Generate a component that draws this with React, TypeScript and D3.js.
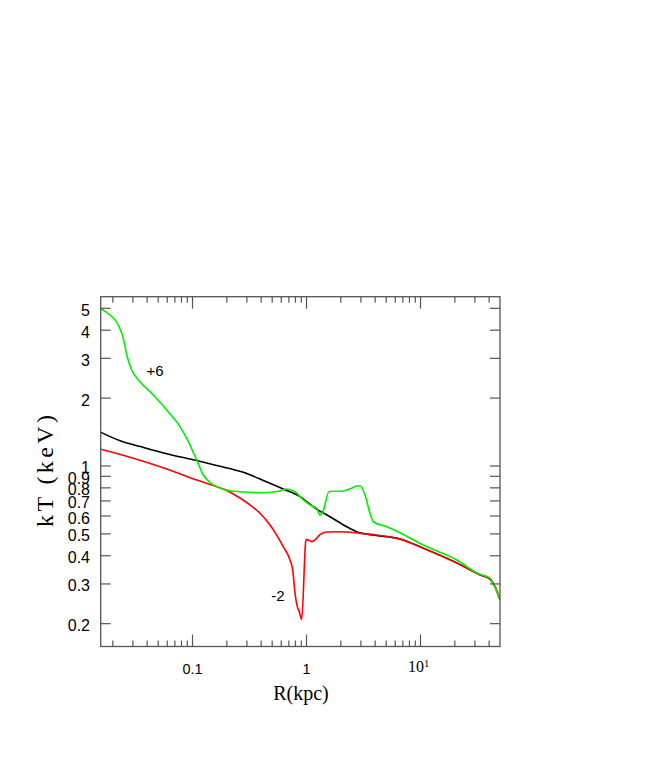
import React from "react";
import * as d3 from "d3";

// Black curve
const blackR = [0.01575, 0.0232, 0.0349, 0.0594, 0.109, 0.163, 0.279, 0.418, 0.6257, 0.877, 1.229, 1.608, 2.25, 2.76, 3.86, 6.61, 10.5, 20.9, 33.3, 40.7, 45.0, 49.8];
const blackT = [1.41, 1.293, 1.219, 1.133, 1.057, 1.005, 0.937, 0.863, 0.791, 0.731, 0.643, 0.596, 0.538, 0.511, 0.494, 0.475, 0.433, 0.372, 0.329, 0.315, 0.292, 0.255];

// Red curve (-2)
const redR = [0.01575, 0.0303, 0.0594, 0.116, 0.1522, 0.1995, 0.2611, 0.3194, 0.3909, 0.4784, 0.5477, 0.6257, 0.7165, 0.7566, 0.7927, 0.8303, 0.8646, 0.9077, 0.984, 1.004, 1.037, 1.111, 1.229, 1.313, 1.503, 1.967, 2.947, 4.128, 6.61, 10.58, 20.8, 33.3, 40.7, 45.0, 49.8];
const redT = [1.186, 1.082, 0.97, 0.858, 0.82, 0.779, 0.721, 0.672, 0.617, 0.548, 0.494, 0.439, 0.383, 0.346, 0.273, 0.238, 0.226, 0.209, 0.462, 0.473, 0.47, 0.462, 0.478, 0.496, 0.51, 0.511, 0.503, 0.494, 0.474, 0.432, 0.371, 0.329, 0.315, 0.292, 0.255];

// Green curve (+6)
const greenR = [0.01575, 0.01889, 0.02234, 0.02472, 0.02648, 0.02929, 0.03463, 0.0453, 0.05938, 0.0777, 0.09187, 0.1088, 0.1244, 0.1522, 0.1995, 0.2611, 0.4179, 0.5855, 0.6705, 0.7927, 0.9374, 1.111, 1.229, 1.313, 1.404, 1.575, 2.103, 2.492, 2.773, 2.947, 3.26, 3.606, 3.855, 5.053, 6.61, 10.58, 20.78, 33.26, 36.8, 40.7, 44.13, 49.32];
const greenT = [4.966, 4.67, 4.217, 3.681, 3.105, 2.665, 2.364, 2.064, 1.771, 1.494, 1.281, 1.063, 0.912, 0.824, 0.783, 0.769, 0.761, 0.775, 0.791, 0.769, 0.707, 0.665, 0.649, 0.606, 0.634, 0.771, 0.775, 0.797, 0.815, 0.815, 0.744, 0.617, 0.566, 0.538, 0.506, 0.446, 0.383, 0.331, 0.326, 0.318, 0.297, 0.259];

const yTickValues = [0.2, 0.3, 0.4, 0.5, 0.6, 0.7, 0.8, 0.9, 1, 2, 3, 4, 5];
const yTickLabels = ["0.2", "0.3", "0.4", "0.5", "0.6", "0.7", "0.8", "0.9", "1", "2", "3", "4", "5"];
const xMajorTicks = [0.1, 1, 10];
const xDecades = [0.01, 0.1, 1, 10];
const xMinorMultipliers = [2, 3, 4, 5, 6, 7, 8, 9];

const xDomain: [number, number] = [0.01565, 49.82];
const yDomain: [number, number] = [0.1584, 5.63];

const curveLabels = [
  { text: "+6", r: 0.0469, t: 2.62 },
  { text: "-2", r: 0.562, t: 0.263 },
];

const L = 100.7, R = 500, T = 296.7, B = 646.5;

export default function App() {
  const x = d3.scaleLog().domain(xDomain).range([L, R]);
  const y = d3.scaleLog().domain(yDomain).range([B, T]);

  const line = d3
    .line<[number, number]>()
    .x((d) => x(d[0]))
    .y((d) => y(d[1]))
    .curve(d3.curveMonotoneX);

  const zip = (a: number[], b: number[]) => a.map((v, i) => [v, b[i]] as [number, number]);

  const minorTicks: number[] = [];
  xDecades.forEach((dec) =>
    xMinorMultipliers.forEach((m) => {
      const v = dec * m;
      if (v > xDomain[0] && v < xDomain[1]) minorTicks.push(v);
    })
  );

  const axisColor = "#555";
  const sans = "'Liberation Sans', Arial, Helvetica, sans-serif";
  const serif = "'Liberation Serif', 'Times New Roman', serif";

  return (
    <svg
      width={654}
      height={763}
      style={{ position: "absolute", left: 0, top: 0, background: "#fff" }}
    >
      <defs>
        <clipPath id="plotclip">
          <rect x={L} y={T} width={R - L} height={B - T} />
        </clipPath>
      </defs>

      <g clipPath="url(#plotclip)" fill="none" strokeWidth={1.6} strokeLinejoin="round">
        <path d={line(zip(blackR, blackT)) || ""} stroke="#000" />
        <path d={line(zip(redR, redT)) || ""} stroke="#ff0000" />
        <path d={line(zip(greenR, greenT)) || ""} stroke="#00ee00" />
      </g>

      {/* frame */}
      <rect x={L} y={T} width={R - L} height={B - T} fill="none" stroke={axisColor} strokeWidth={1.3} />

      {/* x ticks */}
      {xMajorTicks.map((v) => (
        <g key={"xM" + v} stroke={axisColor} strokeWidth={1.2}>
          <line x1={x(v)} x2={x(v)} y1={B} y2={B - 12} />
          <line x1={x(v)} x2={x(v)} y1={T} y2={T + 12} />
        </g>
      ))}
      {minorTicks.map((v) => (
        <g key={"xm" + v} stroke={axisColor} strokeWidth={1.2}>
          <line x1={x(v)} x2={x(v)} y1={B} y2={B - 6} />
          <line x1={x(v)} x2={x(v)} y1={T} y2={T + 6} />
        </g>
      ))}

      {/* y ticks */}
      {yTickValues.map((v) => (
        <g key={"y" + v} stroke={axisColor} strokeWidth={1.2}>
          <line x1={L} x2={L + 10} y1={y(v)} y2={y(v)} />
          <line x1={R} x2={R - 10} y1={y(v)} y2={y(v)} />
        </g>
      ))}

      {/* y tick labels */}
      {yTickValues.map((v, i) => (
        <text
          key={"yl" + v}
          x={90}
          y={y(v) + 7.5}
          textAnchor="end"
          fontFamily={sans}
          fontSize={16}
          fill="#000"
        >
          {yTickLabels[i]}
        </text>
      ))}

      {/* x tick labels */}
      <text x={x(0.1)} y={674} textAnchor="middle" fontFamily={sans} fontSize={14.5}>
        0.1
      </text>
      <text x={x(1)} y={674} textAnchor="middle" fontFamily={sans} fontSize={14.5}>
        1
      </text>
      <text x={x(10) - 12.5} y={671.5} textAnchor="start" fontFamily={serif} fontSize={16}>
        10
        <tspan fontSize={10.5} dy={-5}>
          1
        </tspan>
      </text>

      {/* axis titles */}
      <text x={301} y={700} textAnchor="middle" fontFamily={serif} fontSize={20}>
        R(kpc)
      </text>
      <text
        transform={`translate(53, 471) rotate(-90)`}
        textAnchor="middle"
        fontFamily={serif}
        fontSize={24}
        textLength={112}
        lengthAdjust="spacing"
      >
        kT (keV)
      </text>

      {/* curve labels */}
      {curveLabels.map((c) => (
        <text
          key={c.text}
          x={x(c.r)}
          y={y(c.t)}
          textAnchor="middle"
          dominantBaseline="middle"
          fontFamily={sans}
          fontSize={15}
        >
          {c.text}
        </text>
      ))}
    </svg>
  );
}
